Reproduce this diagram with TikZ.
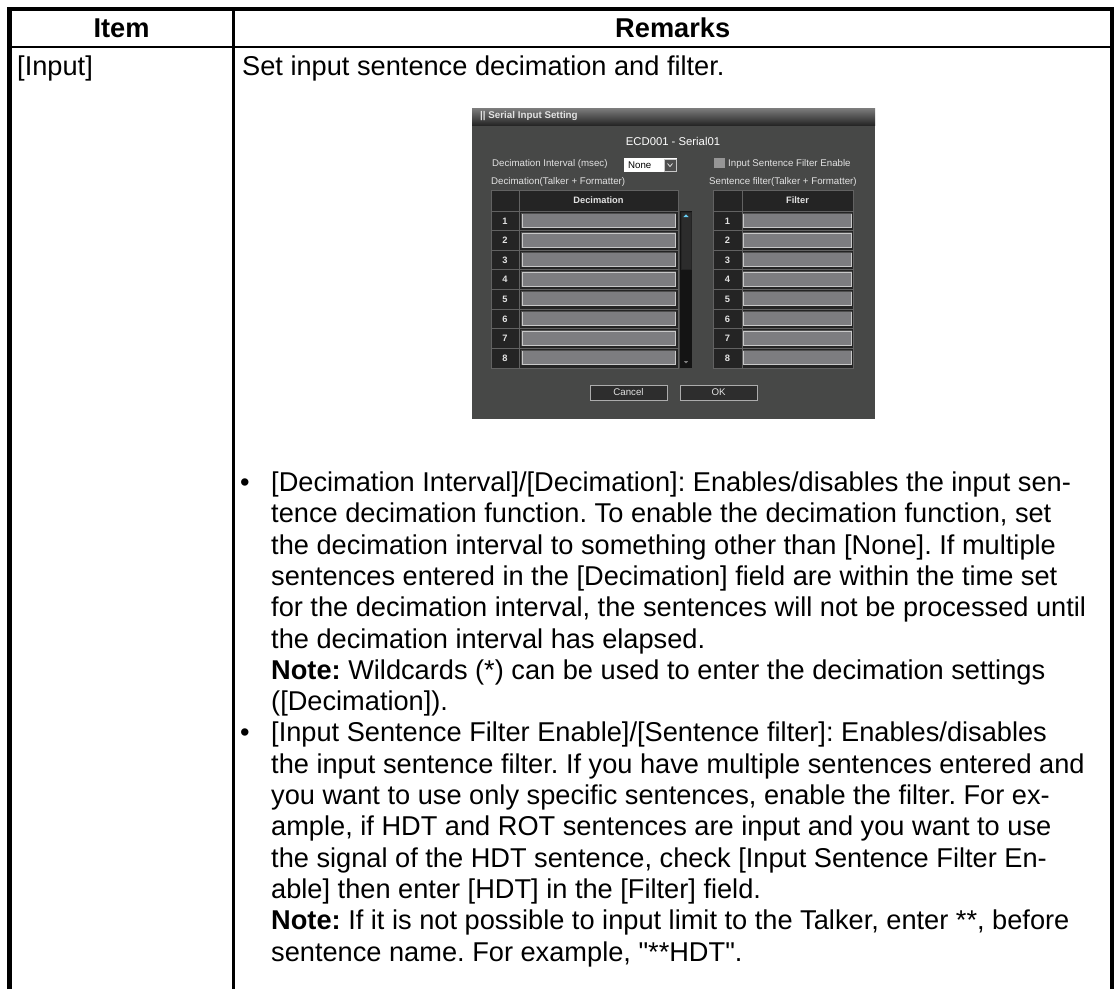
\documentclass[tikz,border=0pt]{standalone}
\usepackage{fontspec}
\usetikzlibrary{positioning}
\newfontfamily\manualfont{Liberation Sans}
\frenchspacing

\definecolor{dlgbody}{RGB}{71,72,71}
\definecolor{titletop}{RGB}{125,125,125}
\definecolor{titlebot}{RGB}{38,38,38}
\definecolor{uicell}{RGB}{36,36,36}
\definecolor{uigrid}{RGB}{98,98,98}
\definecolor{uifield}{RGB}{125,125,128}
\definecolor{uifieldhi}{RGB}{200,200,200}
\definecolor{uifieldlo}{RGB}{78,78,78}
\definecolor{uitext}{RGB}{226,226,226}
\definecolor{scrolltrack}{RGB}{20,20,20}
\definecolor{scrollthumb}{RGB}{44,44,44}
\definecolor{uibtn}{RGB}{45,45,45}
\definecolor{uibtnedge}{RGB}{172,172,172}
\definecolor{checkgray}{RGB}{150,150,150}

\begin{document}
\begin{tikzpicture}[x=1pt, y=-1pt,
        body/.style={font=\manualfont\frenchspacing\fontsize{27.2}{31}\selectfont, inner sep=0pt, anchor=base west},
        head/.style={font=\manualfont\bfseries\fontsize{27.2}{31}\selectfont, inner sep=0pt},
        uitxt/.style={font=\manualfont\fontsize{9.7}{11}\selectfont, text=uitext, inner sep=0pt, anchor=west},
        uibold/.style={font=\manualfont\bfseries\fontsize{9.3}{11}\selectfont, text=uitext, inner sep=0pt},
        gridline/.style={draw=uigrid, line width=0.8pt},
        field/.style={fill=uifield, draw=uifieldhi, line width=1pt, inner sep=0pt, minimum height=14pt},
        fieldlo/.style={draw=uifieldlo, line width=1pt},
        button/.style={fill=uibtn, draw=uibtnedge, line width=1pt, minimum width=77pt, minimum height=15pt, inner sep=0pt, font=\manualfont\fontsize{9.7}{11}\selectfont, text=uitext},]

    \useasboundingbox (0,0) rectangle (1114,989);

    % Table frame
    \draw[line width=4.5pt] (9.3,989) -- (9.3,8.8) -- (1111.8,8.8) -- (1111.8,989);
    \draw[line width=2pt] (9.3,46.7) -- (1111.8,46.7);
    \draw[line width=2.5pt] (233.7,8.8) -- (233.7,989);

    % Header
    \node[head] (item) at (121.5,28) {Item};
    \node[head] (remarks) at (672.7,28) {Remarks};

    % First row
    \node[body] (input) at (17,75) {[Input]};
    \node[body] (intro) at (242,75) {Set input sentence decimation and filter.};

    % Dialog
    \fill[dlgbody] (472,108) rectangle (875,419);
    \shade[top color=titletop, bottom color=titlebot] (472,108) rectangle (875,125);
    \node[uibold, anchor=west, font=\manualfont\bfseries\fontsize{9.8}{11}\selectfont] (title) at (480,116.5) {|| Serial Input Setting};
    \node[font=\manualfont\fontsize{11.3}{13}\selectfont, text=white, inner sep=0pt] (port) at (673,141.5) {ECD001 - Serial01};

    \node[uitxt] (intlbl) at (492,163.5) {Decimation Interval (msec)};
    \node[fill=white, minimum width=53pt, minimum height=14pt, inner sep=0pt] (drop) at (650.5,165) {};
    \node[uitxt, text=black] (none) at (628,165) {None};
    \node[fill=uifieldlo, draw=uifieldhi, line width=0.6pt, minimum size=12pt, inner sep=0pt] (dropbtn) at (670,165) {};
    \draw[uitext, line width=0.8pt] (667.5,163.5) -- (670,166.5) -- (672.5,163.5);

    \node[fill=checkgray, minimum size=10.5pt, inner sep=0pt] (chk) at (719.5,162.8) {};
    \node[uitxt] (chklbl) at (728,163.5) {Input Sentence Filter Enable};

    \node[uitxt] (declbl) at (491,182) {Decimation(Talker + Formatter)};
    \node[uitxt] (fillbl) at (709,182) {Sentence filter(Talker + Formatter)};

    % Decimation and filter tables
    \fill[uicell] (491,190) rectangle (678,368);
    \fill[uicell] (713,190) rectangle (853,368);
    \node[uibold] (dechead) at (598.5,200.5) {Decimation};
    \node[uibold] (filhead) at (797.5,200.5) {Filter};
    \foreach \i in {1,...,8} {
        \pgfmathsetmacro\rowtop{211+19.6*(\i-1)}
        \draw[gridline] (491,\rowtop) -- (678,\rowtop);
        \draw[gridline] (713,\rowtop) -- (853,\rowtop);
        \node[uibold] (dnum\i) at (505,\rowtop+9.8) {\i};
        \node[uibold] (fnum\i) at (727.5,\rowtop+9.8) {\i};
        \node[field, minimum width=153pt] (dfield\i) at (598.5,\rowtop+9.5) {};
        \node[field, minimum width=108pt] (ffield\i) at (797,\rowtop+9.5) {};
        \draw[fieldlo] (dfield\i.south west) |- (dfield\i.north east);
        \draw[fieldlo] (ffield\i.south west) |- (ffield\i.north east);
    }
    \draw[gridline] (491,190) rectangle (678,368) (519,190) -- (519,368);
    \draw[gridline] (713,190) rectangle (853,368) (742,190) -- (742,368);

    % Scrollbar
    \fill[scrolltrack] (680,211) rectangle (692,368);
    \draw[fill=scrollthumb, draw=uicell, line width=0.6pt] (681,212) rectangle (691,269);
    \fill[cyan!60!white] (683.3,217) -- (686,214.3) -- (688.7,217) -- cycle;
    \fill[gray] (683.8,361) -- (688.2,361) -- (686,363.4) -- cycle;

    % Buttons
    \node[button] (cancel) at (628.5,392.5) {Cancel};
    \node[button, right=12pt of cancel] (ok) {OK};

    % Remarks
    \node[body] (bullet1) at (240,491.5) {\textbullet};
    \node[body] (line1) at (271,491.5) {[Decimation Interval]/[Decimation]: Enables/disables the input sen-};
    \node[body] (line2) at (271,522.8) {tence decimation function. To enable the decimation function, set};
    \node[body] (line3) at (271,554.1) {the decimation interval to something other than [None]. If multiple};
    \node[body] (line4) at (271,585.4) {sentences entered in the [Decimation] field are within the time set};
    \node[body] (line5) at (271,616.7) {for the decimation interval, the sentences will not be processed until};
    \node[body] (line6) at (271,648.0) {the decimation interval has elapsed.};
    \node[body] (line7) at (271,679.3) {\textbf{Note:} Wildcards (*) can be used to enter the decimation settings};
    \node[body] (line8) at (271,710.6) {([Decimation]).};
    \node[body] (bullet2) at (240,741.9) {\textbullet};
    \node[body] (line9) at (271,741.9) {[Input Sentence Filter Enable]/[Sentence filter]: Enables/disables};
    \node[body] (line10) at (271,773.2) {the input sentence filter. If you have multiple sentences entered and};
    \node[body] (line11) at (271,804.5) {you want to use only specific sentences, enable the filter. For ex-};
    \node[body] (line12) at (271,835.8) {ample, if HDT and ROT sentences are input and you want to use};
    \node[body] (line13) at (271,867.1) {the signal of the HDT sentence, check [Input Sentence Filter En-};
    \node[body] (line14) at (271,898.4) {able] then enter [HDT] in the [Filter] field.};
    \node[body] (line15) at (271,929.7) {\textbf{Note:} If it is not possible to input limit to the Talker, enter **, before};
    \node[body] (line16) at (271,961.0) {sentence name. For example, "**HDT".};
\end{tikzpicture}
\end{document}
